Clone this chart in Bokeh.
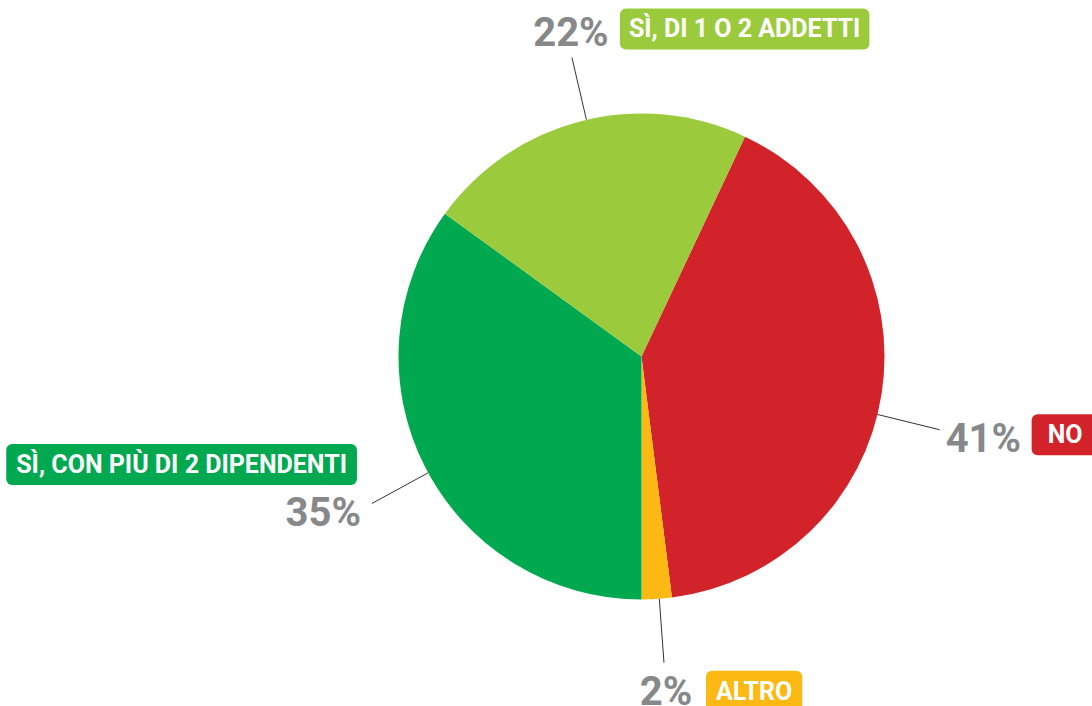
import numpy as np
from bokeh.plotting import figure
from bokeh.models import Range1d, Label
from bokeh.embed import file_html
from bokeh.resources import INLINE

# ---- data ----
categories = ["NO", "ALTRO", "SÌ, CON PIÙ DI 2 DIPENDENTI", "SÌ, DI 1 O 2 ADDETTI"]
values = [41, 2, 35, 22]
pct_labels = ["41%", "2%", "35%", "22%"]
colors = ["#d2232a", "#fcb913", "#00a94f", "#9bcb3c"]

# ---- layout / style ----
W, H = 1092, 706
cx, cy, R = 641, -356, 243          # pie centre (data units = page pixels, y negated)
start_deg = 25.2                     # clockwise from 12 o'clock
leader_len = 64
angle_adjust = [4.8, -0.6, -1.6, 1.3]
FONT = "Roboto"
GRAY = "#87888a"

# percent label placement relative to leader end: (dx, dy, align)
pct_place = [(6, -9, "left"),
             (2, -29, "center"),
             (-11, -9, "right"),
             (-1, 25, "center")]
# name box placement relative to leader end: (dx, dy, align, hpad)
name_place = [(92, -5, "left", 16),
              (42, -28.5, "left", 10),
              (-15, 39, "right", 10),
              (48, 28.5, "left", 9)]

p = figure(width=W, height=H, x_range=Range1d(0, W), y_range=Range1d(-H, 0),
           output_backend="svg", toolbar_location=None, min_border=0,
           x_axis_location=None, y_axis_location=None)
p.grid.visible = False
p.outline_line_color = None
p.background_fill_color = "white"
p.border_fill_color = "white"

frac = np.array(values, dtype=float) / sum(values)
cum = start_deg + 360 * np.concatenate([[0], np.cumsum(frac)])
starts, ends = cum[:-1], cum[1:]
p.wedge(x=cx, y=cy, radius=R, radius_units="screen",
        start_angle=list(np.radians(90 - starts)), end_angle=list(np.radians(90 - ends)),
        direction="clock", fill_color=colors, line_color=None)

mids = np.radians((starts + ends) / 2 + np.array(angle_adjust))
x0 = cx + R * np.sin(mids)
y0 = cy + R * np.cos(mids)
x1 = cx + (R + leader_len) * np.sin(mids)
y1 = cy + (R + leader_len) * np.cos(mids)
p.segment(x0=list(x0), y0=list(y0), x1=list(x1), y1=list(y1), line_color="#333333", line_width=1)

for i in range(len(values)):
    dx, dy, al = pct_place[i]
    p.add_layout(Label(x=x1[i] + dx, y=y1[i] + dy, text=pct_labels[i], text_font=FONT,
                       text_font_style="bold", text_font_size="40px", text_color=GRAY,
                       text_align=al, text_baseline="alphabetic"))
    ndx, ndy, nal, hp = name_place[i]
    p.add_layout(Label(x=x1[i] + ndx, y=y1[i] + ndy, text=categories[i], text_font=FONT,
                       text_font_style="bold", text_font_size="25px", text_color="white",
                       text_align=nal, text_baseline="middle",
                       background_fill_color=colors[i], border_radius=6,
                       padding=dict(left=hp, right=hp, top=6, bottom=6)))

open("out.html", "w").write(file_html(p, INLINE))
